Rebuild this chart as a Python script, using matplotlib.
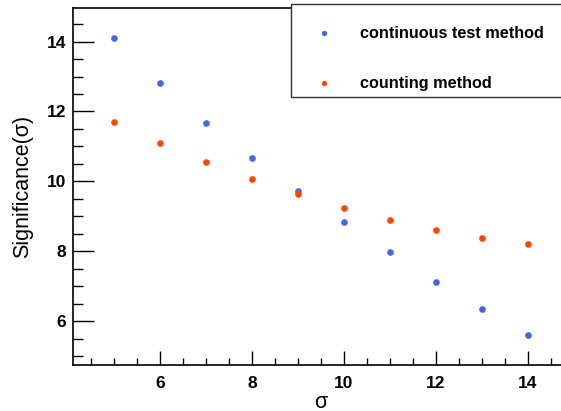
import matplotlib
matplotlib.use("Agg")
import matplotlib.pyplot as plt
from matplotlib.ticker import MultipleLocator
from matplotlib.patches import Rectangle

x_vals = [5, 6, 7, 8, 9, 10, 11, 12, 13, 14]
continuous = [14.11, 12.82, 11.68, 10.67, 9.73, 8.83, 7.97, 7.13, 6.34, 5.60]
counting = [11.71, 11.09, 10.56, 10.07, 9.63, 9.24, 8.90, 8.62, 8.38, 8.20]
labels = ["continuous test method", "counting method"]
colors = ["#4169E1", "#FF4500"]

plt.rcParams['font.family'] = ['Liberation Sans', 'DejaVu Sans']

fig = plt.figure(figsize=(5.61, 4.11), dpi=100)
W, H = 561, 411
l, r, t, b = 73, 569, 8, 365
ax = fig.add_axes([l / W, (H - b) / H, (r - l) / W, (b - t) / H])

h1, = ax.plot(x_vals, continuous, 'o', color=colors[0], markersize=4.8, markeredgewidth=0, label=labels[0])
h2, = ax.plot(x_vals, counting, 'o', color=colors[1], markersize=4.8, markeredgewidth=0, label=labels[1])

ax.set_xlim(4.1, 14.9)
ax.set_ylim(4.75, 14.96)
ax.xaxis.set_major_locator(MultipleLocator(2))
ax.xaxis.set_minor_locator(MultipleLocator(0.5))
ax.yaxis.set_major_locator(MultipleLocator(2))
ax.yaxis.set_minor_locator(MultipleLocator(0.5))
ax.tick_params(which='both', direction='in', top=False, right=False, width=1)
ax.tick_params(axis='x', which='major', length=10, labelsize=12.5, pad=8)
ax.tick_params(axis='x', which='minor', length=5)
ax.tick_params(axis='y', which='major', length=15, labelsize=12.5, pad=5)
ax.tick_params(axis='y', which='minor', length=7)
for lab in ax.get_xticklabels() + ax.get_yticklabels():
    lab.set_fontweight('bold')
for s in ax.spines.values():
    s.set_linewidth(1.2)

ax.set_xlabel("σ", fontsize=15.5, va='center')
ax.set_ylabel("Significance(σ)", fontsize=15.5, va='center')
ax.xaxis.set_label_coords(0.5, -(402 - 365) / (b - t))
ax.yaxis.set_label_coords(-(73 - 23) / (r - l), 0.5)

# legend frame
lx0 = (291 - l) / (r - l)
ly0 = (b - 97) / (b - t)
ax.add_patch(Rectangle((lx0, ly0), 1.2, 1 - ly0 + 0.01, transform=ax.transAxes,
                       fill=True, facecolor='white', edgecolor='#333333', linewidth=1.0,
                       clip_on=False, zorder=5))
leg = ax.legend(handles=[h1, h2], loc='upper left',
                bbox_to_anchor=((313 - l) / (r - l), (b - 20) / (b - t)),
                frameon=False, prop={'weight': 'bold', 'size': 11.7},
                handlelength=0.5, handletextpad=2.0, labelspacing=2.15,
                markerscale=0.8, borderaxespad=0)
leg.set_zorder(6)

fig.savefig("out.png", dpi=100)
